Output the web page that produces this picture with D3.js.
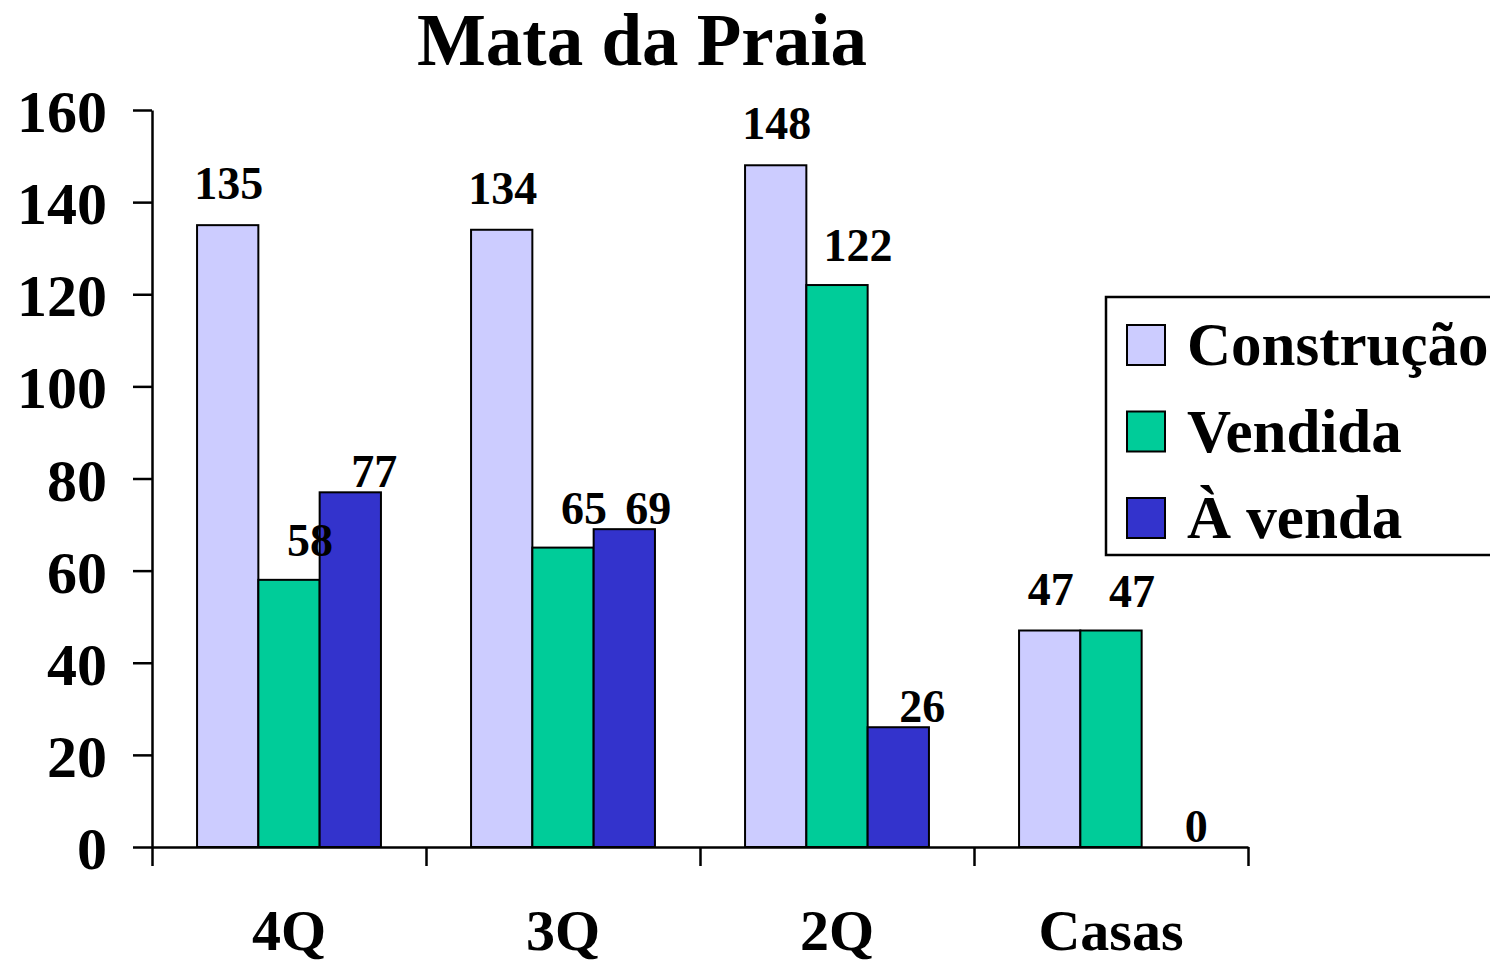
<!DOCTYPE html>
<html>
<head>
<meta charset="utf-8">
<script src="https://cdn.jsdelivr.net/npm/d3@7"></script>
<style>
  html, body { margin: 0; padding: 0; background: #fff; }
  svg { display: block; font-family: "Liberation Serif", "Times New Roman", serif; font-weight: bold; }
</style>
</head>
<body>
<svg id="chart" width="1490" height="964"></svg>
<script>
// Chart data
const title = "Mata da Praia";
const categories = ["4Q", "3Q", "2Q", "Casas"];
const seriesNames = ["Construção", "Vendida", "À venda"];
const construcao = [135, 134, 148, 47];
const vendida = [58, 65, 122, 47];
const aVenda = [77, 69, 26, 0];
const yTicks = [0, 20, 40, 60, 80, 100, 120, 140, 160];

const seriesValues = [construcao, vendida, aVenda];
const colors = ["#CCCCFF", "#00CC99", "#3333CC"];
// per-series placement of value labels (x shift, gap above bar top)
const labelShift = [{ dx: 1, gap: 26 }, { dx: 21, gap: 24 }, { dx: 24, gap: 5 }];

const svg = d3.select("#chart");

const plot = { left: 152, right: 1248, top: 110, bottom: 847 };

const x0 = d3.scaleBand()
  .domain(categories)
  .range([plot.left, plot.right])
  .paddingInner(0)
  .paddingOuter(0);

const x1 = d3.scaleBand()
  .domain(seriesNames)
  .range([0, x0.bandwidth()])
  .paddingInner(0)
  .paddingOuter(0.735);

const y = d3.scaleLinear()
  .domain([0, 160])
  .range([plot.bottom, plot.top]);

// Title
svg.append("text")
  .attr("x", 642)
  .attr("y", 65)
  .attr("text-anchor", "middle")
  .attr("font-size", 73)
  .text(title);

// Rows for each bar
const rows = [];
categories.forEach((c, i) => {
  seriesNames.forEach((s, j) => {
    rows.push({ cat: c, series: s, si: j, value: seriesValues[j][i] });
  });
});

// Bars
svg.append("g")
  .selectAll("rect")
  .data(rows.filter(d => d.value > 0))
  .join("rect")
  .attr("x", d => x0(d.cat) + x1(d.series))
  .attr("y", d => y(d.value))
  .attr("width", x1.bandwidth())
  .attr("height", d => y(0) - y(d.value))
  .attr("fill", d => colors[d.si])
  .attr("stroke", "#000")
  .attr("stroke-width", 2);

// Y axis
const yAxis = d3.axisLeft(y)
  .tickValues(yTicks)
  .tickSize(19)
  .tickSizeOuter(0)
  .tickPadding(26)
  .tickFormat(d3.format("d"));

const gy = svg.append("g")
  .attr("transform", `translate(${plot.left},0)`)
  .call(yAxis);
gy.select(".domain").attr("stroke", "#000").attr("stroke-width", 2.5);
gy.selectAll(".tick line").attr("stroke", "#000").attr("stroke-width", 2.5);
gy.selectAll(".tick text")
  .attr("font-family", "Liberation Serif, Times New Roman, serif")
  .attr("font-weight", "bold")
  .attr("font-size", 60)
  .attr("fill", "#000")
  .attr("dy", "0.36em");

// X axis: ticks at category boundaries
const xb = d3.scaleLinear().domain([0, categories.length]).range([plot.left, plot.right]);
const xAxis = d3.axisBottom(xb)
  .tickValues(d3.range(categories.length + 1))
  .tickSize(19)
  .tickSizeOuter(0)
  .tickFormat("");
const gx = svg.append("g")
  .attr("transform", `translate(0,${plot.bottom})`)
  .call(xAxis);
gx.select(".domain").attr("stroke", "#000").attr("stroke-width", 2.5);
gx.selectAll(".tick line").attr("stroke", "#000").attr("stroke-width", 2.5);

// Category labels
svg.append("g")
  .selectAll("text")
  .data(categories)
  .join("text")
  .attr("x", d => x0(d) + x0.bandwidth() / 2)
  .attr("y", 950)
  .attr("text-anchor", "middle")
  .attr("font-size", 58)
  .text(d => d);

// Value labels
svg.append("g")
  .selectAll("text")
  .data(rows)
  .join("text")
  .attr("x", d => x0(d.cat) + x1(d.series) + x1.bandwidth() / 2 + labelShift[d.si].dx)
  .attr("y", d => y(d.value) - labelShift[d.si].gap)
  .attr("text-anchor", "middle")
  .attr("font-size", 46)
  .text(d => d.value);

// Legend
const legend = svg.append("g");
legend.append("rect")
  .attr("x", 1106)
  .attr("y", 297)
  .attr("width", 400)
  .attr("height", 258)
  .attr("fill", "#fff")
  .attr("stroke", "#000")
  .attr("stroke-width", 2.5);

const items = legend.selectAll("g.item")
  .data(seriesNames)
  .join("g")
  .attr("class", "item")
  .attr("transform", (d, i) => `translate(1127,${325 + i * 86.5})`);
items.append("rect")
  .attr("width", 38)
  .attr("height", 40)
  .attr("fill", (d, i) => colors[i])
  .attr("stroke", "#000")
  .attr("stroke-width", 2);
items.append("text")
  .attr("x", 60)
  .attr("y", 40)
  .attr("font-size", 61)
  .text(d => d);
</script>
</body>
</html>
